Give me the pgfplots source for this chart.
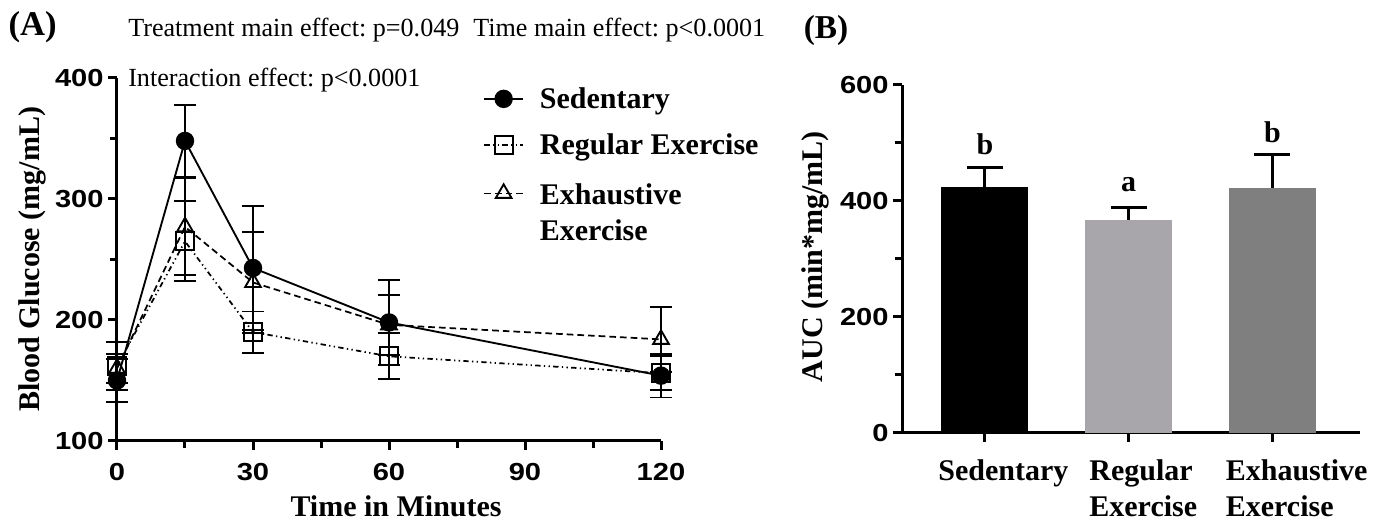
\documentclass[border=0pt]{standalone}
\usepackage{pgfplots}
\pgfplotsset{compat=1.18}
\usepackage{fontspec}
\setmainfont{Liberation Serif}
\newfontfamily\tickfont[FakeStretch=1.18]{Liberation Sans}
\definecolor{lgray}{RGB}{168,166,171}
\definecolor{dgray}{RGB}{127,127,127}
\newcommand{\lblfont}{\bfseries\fontsize{22.5}{27}\selectfont}
\newcommand{\tkfont}{\tickfont\bfseries\fontsize{18.5}{18.5}\selectfont}
\newcommand{\annfont}{\fontsize{19.6}{23}\selectfont}
\frenchspacing
\pgfplotsset{
  common/.style={
    scale only axis, anchor=south west, clip=false,
    axis x line*=bottom, axis y line*=left,
    axis line style={line width=2.25pt,-},
    tick align=outside, major tick length=6.5pt, minor tick length=5pt,
    tick style={line width=2.25pt, black},
    ticklabel style={font=\tkfont},
    /pgf/number format/assume math mode=true,
    label style={font=\lblfont},
  }
}
\begin{document}
\begin{tikzpicture}
\path[use as bounding box] (0pt,0pt) rectangle (1034.25pt,393pt);
% Panel A
\begin{axis}[common,
  at={(87.75pt,62.25pt)}, width=408pt, height=272.25pt,
  xmin=0, xmax=120, ymin=100, ymax=400,
  xtick={0,30,60,90,120}, minor xtick={15,45,75,105},
  ytick={100,200,300,400}, minor ytick={150,250,350},
  xticklabel style={yshift=-6.5pt},
  xlabel={Time in Minutes}, ylabel={Blood Glucose (mg/mL)},
  xlabel style={at={(axis description cs:0.513,-0.18)}, anchor=center},
  ylabel style={at={(axis description cs:-0.156,0.5)}, anchor=center},
  legend style={at={(rel axis cs:0.673,0.982)}, anchor=north west, draw=none, fill=none,
    font=\lblfont, row sep=13.5pt, inner sep=0pt,
    /tikz/every odd column/.append style={column sep=10pt}},
  legend cell align=left,
  legend image code/.code={\draw[mark repeat=2,mark phase=2,#1] plot coordinates {(0pt,0pt) (14.5pt,0pt) (29pt,0pt)};},
  error bars/y dir=both, error bars/y explicit,
  error bars/error bar style={line width=1.4pt, solid, black},
  error bars/error mark options={rotate=90, mark size=8pt, line width=1.4pt, solid, black},
]
\addplot[black, line width=1.4pt, mark=*, mark size=6.2pt, mark options={solid, fill=black}]
  table[x=x, y=y, y error=e] {
x y e
0 150 18
15 348 30
30 243 51
60 198 35
120 154 18
};
\addlegendentry{Sedentary}
\addplot[black, line width=1.3pt, dash pattern=on 4pt off 2.5pt on 1pt off 2.5pt on 1pt off 2.5pt,
  mark=square, mark size=6.75pt, mark options={solid, line width=1.4pt}]
  table[x=x, y=y, y error=e] {
x y e
0 162 20
15 265 33
30 190 17
60 170 19
120 156 14
};
\addlegendentry{Regular Exercise}
\addplot[black, line width=1.3pt, dash pattern=on 5pt off 3pt,
  mark=triangle, mark size=6.8pt, mark options={solid, line width=1.4pt}]
  table[x=x, y=y, y error=e] {
x y e
0 160 12
15 277 40
30 231 42
60 196 25
120 184 27
};
\addlegendentry{\begin{tabular}[t]{@{}l@{}}Exhaustive\\Exercise\end{tabular}}
\end{axis}
% Panel B
\begin{axis}[common,
  at={(676.5pt,68.25pt)}, width=343.5pt, height=261pt,
  xmin=-0.577, xmax=2.609, ymin=0, ymax=600,
  ytick={0,200,400,600}, minor ytick={100,300,500},
  xtick={0,1,2},
  xticklabels={Sedentary, \hspace*{5.5pt}Regular\\\hspace*{5.5pt}Exercise, Exhaustive\\Exercise},
  xticklabel style={font=\lblfont, align=left, anchor=north west, xshift=-38.5pt, yshift=-10pt},
  ylabel={AUC (min*mg/mL)},
  ylabel style={at={(axis description cs:-0.188,0.506)}, anchor=center},
  ybar, bar width=0.605,
  error bars/y dir=plus, error bars/y explicit,
  error bars/error bar style={line width=2.25pt, black},
  error bars/error mark options={rotate=90, mark size=13.5pt, line width=2.25pt, black},
]
\addplot[fill=black, draw=none, bar shift=0pt] coordinates {(0,424) +- (0,33)};
\addplot[fill=lgray, draw=none, bar shift=0pt] coordinates {(1,367) +- (0,21)};
\addplot[fill=dgray, draw=none, bar shift=0pt] coordinates {(2,422) +- (0,59)};
\node[font=\lblfont] at (axis cs:0,497) {b};
\node[font=\lblfont] at (axis cs:1,428) {a};
\node[font=\lblfont] at (axis cs:2,519) {b};
\end{axis}
% Panel labels and annotations
\node[font=\bfseries\fontsize{26}{26}\selectfont] at (24.5pt,372.75pt) {(A)};
\node[font=\bfseries\fontsize{25}{25}\selectfont] at (619.5pt,370.5pt) {(B)};
\node[font=\annfont, anchor=west, inner sep=0pt] at (96pt,370.5pt) {Treatment main effect: p=0.049};
\node[font=\annfont, anchor=west, inner sep=0pt] at (354.75pt,370.5pt) {Time main effect: p<0.0001};
\node[font=\annfont, anchor=west, inner sep=0pt] at (96pt,333pt) {Interaction effect: p<0.0001};
\end{tikzpicture}
\end{document}
